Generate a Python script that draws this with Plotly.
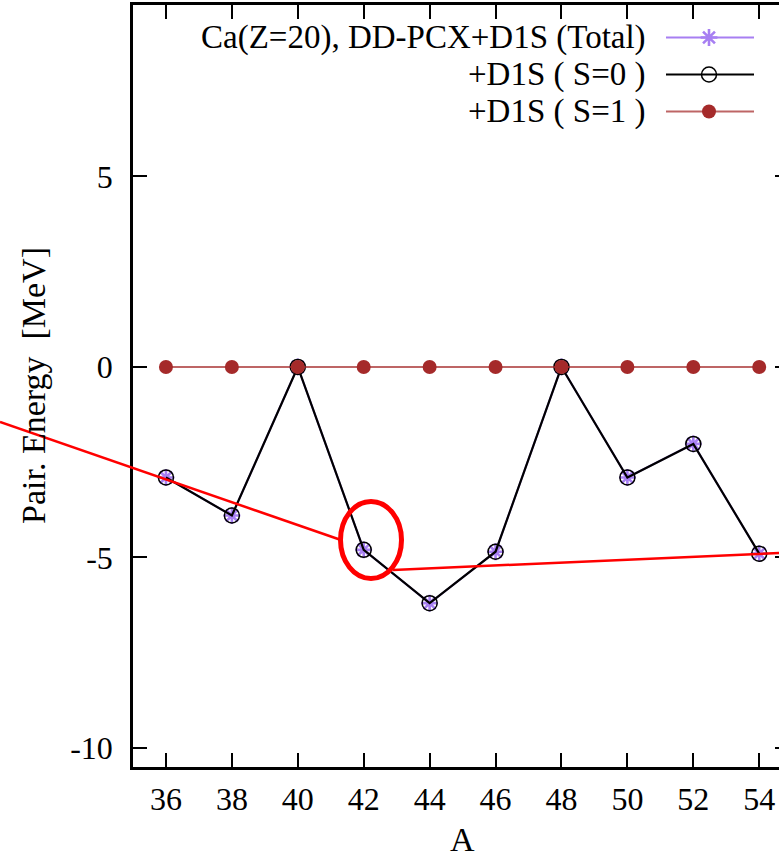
import plotly.graph_objects as go

# Pairing energies of Ca isotopes (MeV)
mass_number = [36, 38, 40, 42, 44, 46, 48, 50, 52, 54]
pair_total = [-2.9, -3.9, 0.0, -4.8, -6.2, -4.85, 0.0, -2.9, -2.02, -4.9]
pair_s0 = [-2.9, -3.9, 0.0, -4.8, -6.2, -4.85, 0.0, -2.9, -2.02, -4.9]
pair_s1 = [0.0, 0.0, 0.0, 0.0, 0.0, 0.0, 0.0, 0.0, 0.0, 0.0]

x_ticks = [36, 38, 40, 42, 44, 46, 48, 50, 52, 54]
y_ticks = [-10, -5, 0, 5]

series_names = ["Ca(Z=20), DD-PCX+D1S (Total)", "+D1S ( S=0 )", "+D1S ( S=1 )"]

W, H = 779, 861
L, R, T, B = 133, 779, 5, 767          # plot-area edges in pixels
FONT = "'Liberation Serif', 'Times New Roman', 'DejaVu Serif', serif"
FS_TICK = 32
FS_KEY = 33
FS_TITLE = 34

PURPLE = "#a77ff2"
BROWN = "#a52a2a"
BROWN_LINE = "rgba(165,42,42,0.72)"


def px_x(p):
    return (p - L) / (R - L)


def px_y(p):
    return (B - p) / (B - T)


styles = [
    dict(line=dict(color=PURPLE, width=2),
         marker=dict(symbol="asterisk-open", size=14, color=PURPLE,
                     line=dict(color=PURPLE, width=2.6))),
    dict(line=dict(color="black", width=2.2),
         marker=dict(symbol="circle-open", size=15, color="black",
                     line=dict(color="black", width=1.5))),
    dict(line=dict(color=BROWN_LINE, width=2),
         marker=dict(symbol="circle", size=14, color=BROWN, line=dict(width=0))),
]

fig = go.Figure()
for ys, st in zip([pair_total, pair_s0, pair_s1], styles):
    fig.add_trace(go.Scatter(x=mass_number, y=ys, mode="lines+markers",
                             line=st["line"], marker=st["marker"],
                             showlegend=False, cliponaxis=False))

# key in the upper right: text on the left, sample line + symbol on the right
key_rows = [37.5, 74.5, 111.5]
for name, row, st in zip(series_names, key_rows, styles):
    fig.add_trace(go.Scatter(x=[666, 754], y=[row, row], mode="lines",
                             line=st["line"], xaxis="x2", yaxis="y2",
                             showlegend=False, hoverinfo="skip"))
    fig.add_trace(go.Scatter(x=[709], y=[row], mode="markers",
                             marker=st["marker"], xaxis="x2", yaxis="y2",
                             showlegend=False, hoverinfo="skip"))
    fig.add_annotation(x=px_x(648), y=px_y(row), xref="paper", yref="paper",
                       text=name, showarrow=False, xanchor="right", yanchor="middle",
                       font=dict(family=FONT, size=FS_KEY, color="black"))

# invisible trace so the right-hand tick axis is drawn
fig.add_trace(go.Scatter(x=[mass_number[0]], y=[0], yaxis="y3", mode="markers",
                         marker=dict(opacity=0), showlegend=False, hoverinfo="skip"))

tick_font = dict(family=FONT, size=FS_TICK, color="black")
title_font = dict(family=FONT, size=FS_TITLE, color="black")
fig.update_layout(
    width=W, height=H,
    margin=dict(l=L, r=W - R, t=T, b=H - B, pad=0),
    paper_bgcolor="white", plot_bgcolor="white",
    font=tick_font,
    xaxis=dict(range=[35, 54.6], tickvals=x_ticks, ticktext=[str(v) for v in x_ticks],
               ticks="inside", ticklen=14,
               tickwidth=1.5, tickcolor="black", showline=True, linewidth=2.5,
               linecolor="black", mirror="ticks", showgrid=False, zeroline=False,
               tickfont=tick_font, ticklabelstandoff=2),
    yaxis=dict(range=[-10.5, 9.5], tickvals=y_ticks, ticktext=[str(v) for v in y_ticks],
               ticks="inside", ticklen=14,
               tickwidth=1.5, tickcolor="black", showline=True, linewidth=2.5,
               linecolor="black", mirror=False, showgrid=False, zeroline=False,
               tickfont=tick_font, ticklabelstandoff=11),
    yaxis3=dict(range=[-10.5, 9.5], tickvals=y_ticks, overlaying="y", side="right",
                ticks="inside", ticklen=4, tickwidth=1.5, tickcolor="black",
                showticklabels=False, showline=False, showgrid=False, zeroline=False),
    xaxis2=dict(range=[L, R], overlaying="x", visible=False),
    yaxis2=dict(range=[B, T], overlaying="y", visible=False),
    shapes=[
        dict(type="line", xref="paper", yref="paper",
             x0=px_x(0), y0=px_y(422), x1=px_x(341), y1=px_y(540),
             line=dict(color="red", width=2.5)),
        dict(type="line", xref="paper", yref="paper",
             x0=px_x(393), y0=px_y(570), x1=px_x(781), y1=px_y(553),
             line=dict(color="red", width=2.5)),
        dict(type="circle", xref="paper", yref="paper",
             x0=px_x(340.5), x1=px_x(401.5), y0=px_y(501.5), y1=px_y(578.5),
             line=dict(color="red", width=5)),
    ],
)

# axis titles
fig.add_annotation(x=px_x(462), y=px_y(839), xref="paper", yref="paper", text="A",
                   showarrow=False, xanchor="center", yanchor="middle", font=title_font)
fig.add_annotation(x=px_x(33), y=px_y(386), xref="paper", yref="paper",
                   text="Pair. Energy  [MeV]", textangle=-90, showarrow=False,
                   xanchor="center", yanchor="middle", font=title_font)

fig.write_html("out.html")
